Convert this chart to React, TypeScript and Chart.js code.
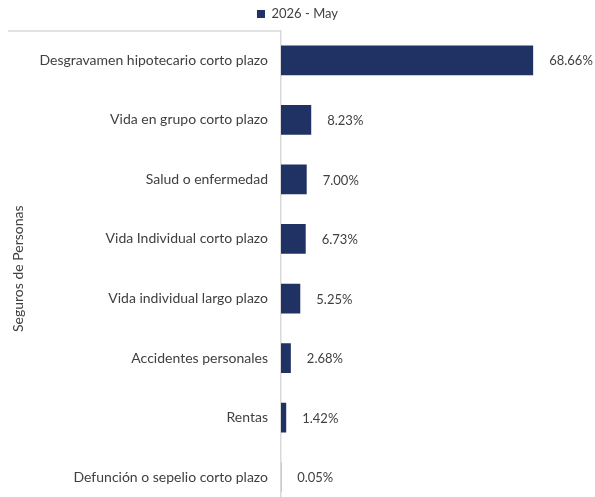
import React, { useEffect, useRef } from "react";
import { Chart, registerables } from "chart.js";

Chart.register(...registerables);

const categories = [
  "Desgravamen hipotecario corto plazo",
  "Vida en grupo corto plazo",
  "Salud o enfermedad",
  "Vida Individual corto plazo",
  "Vida individual largo plazo",
  "Accidentes personales",
  "Rentas",
  "Defunción o sepelio corto plazo",
];
const values = [68.66, 8.23, 7.0, 6.73, 5.25, 2.68, 1.42, 0.05];
const seriesLabel = "2026 - May";
const axisTitle = "Seguros de Personas";

const BAR = "#203164";
const TEXT = "#404040";
const LINE = "#d9d9d9";
const FONT = "Lato";

const labelPlugin = {
  id: "valueLabels",
  afterDatasetsDraw(chart: any) {
    const ctx = chart.ctx;
    const meta = chart.getDatasetMeta(0);
    ctx.save();
    ctx.font = `13px ${FONT}`;
    ctx.fillStyle = TEXT;
    ctx.textAlign = "left";
    ctx.textBaseline = "middle";
    meta.data.forEach((el: any, i: number) => {
      ctx.fillText(values[i].toFixed(2) + "%", el.x + 16, el.y + 1);
    });
    ctx.restore();
  },
};

const bracketPlugin = {
  id: "bracket",
  afterDraw(chart: any) {
    const { ctx, chartArea } = chart;
    ctx.save();
    ctx.strokeStyle = LINE;
    ctx.lineWidth = 1.5;
    ctx.beginPath();
    ctx.moveTo(8, chartArea.top + 0.5);
    ctx.lineTo(chartArea.left, chartArea.top + 0.5);
    ctx.moveTo(8, chartArea.bottom - 0.5);
    ctx.lineTo(chartArea.left, chartArea.bottom - 0.5);
    ctx.stroke();
    ctx.restore();
  },
};

export default function App() {
  const ref = useRef<HTMLCanvasElement>(null);
  useEffect(() => {
    if (!ref.current) return;
    const chart = new Chart(ref.current, {
      type: "bar",
      data: {
        labels: categories,
        datasets: [
          {
            label: seriesLabel,
            data: values,
            backgroundColor: BAR,
            borderWidth: 0,
            barPercentage: 0.5,
            categoryPercentage: 1,
          },
        ],
      },
      options: {
        indexAxis: "y",
        animation: false,
        responsive: false,
        maintainAspectRatio: false,
        layout: { padding: { top: 7, right: 0, bottom: 8, left: 0 } },
        plugins: {
          legend: {
            display: true,
            position: "top",
            labels: {
              boxWidth: 8,
              boxHeight: 8,
              color: TEXT,
              font: { family: FONT, size: 13, lineHeight: 1 },
              padding: 0.5,
            },
          },
          tooltip: { enabled: false },
        },
        scales: {
          x: {
            display: false,
            min: 0,
            max: 85.5,
          },
          y: {
            afterFit(scale: any) {
              scale.width = 281;
              scale.paddingTop = 0;
              scale.paddingBottom = 0;
            },
            grid: { display: true, color: "transparent", drawTicks: false },
            border: { display: true, color: LINE, width: 1.5 },
            ticks: {
              color: TEXT,
              font: { family: FONT, size: 14 },
              padding: 13,
            },
            title: {
              display: true,
              text: axisTitle,
              color: TEXT,
              font: { family: FONT, size: 14 },
              padding: { top: 10, bottom: 0 },
            },
          },
        },
      },
      plugins: [labelPlugin, bracketPlugin],
    });
    return () => chart.destroy();
  }, []);
  return (
    <div style={{ position: "absolute", left: 0, top: 0, width: 595, height: 497, overflow: "hidden" }}>
      <canvas ref={ref} width={595} height={515} style={{ display: "block", width: 595, height: 515 }} />
    </div>
  );
}
